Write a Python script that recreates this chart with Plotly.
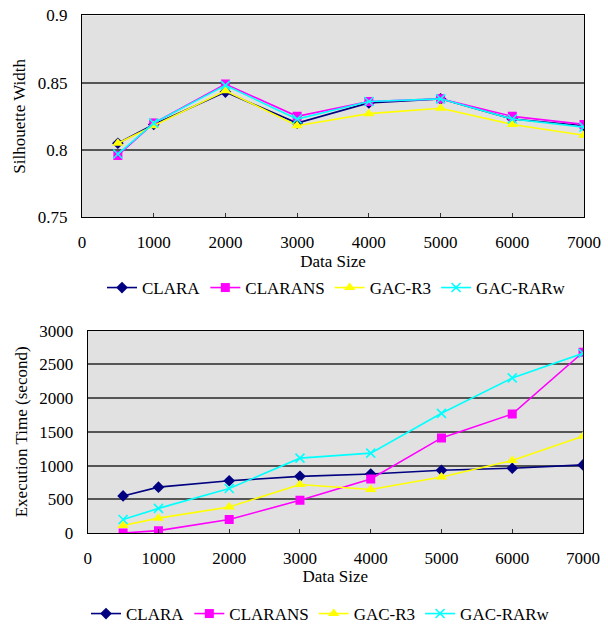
import plotly.graph_objects as go

# Data sizes shared by both panels
data_sizes = [500, 1000, 2000, 3000, 4000, 5000, 6000, 7000]

# Silhouette width per algorithm
sil_clara = [0.805, 0.819, 0.843, 0.820, 0.835, 0.838, 0.823, 0.818]
sil_clarans = [0.796, 0.820, 0.849, 0.825, 0.836, 0.838, 0.825, 0.819]
sil_gac_r3 = [0.805, 0.818, 0.844, 0.818, 0.827, 0.831, 0.819, 0.811]
sil_gac_rarw = [0.797, 0.820, 0.848, 0.823, 0.836, 0.838, 0.823, 0.817]

# Execution time (seconds) per algorithm
time_clara = [550, 680, 775, 840, 875, 930, 960, 1010]
time_clarans = [0, 35, 200, 485, 800, 1410, 1765, 2680]
time_gac_r3 = [110, 220, 385, 720, 645, 830, 1075, 1435]
time_gac_rarw = [200, 365, 660, 1110, 1185, 1775, 2300, 2665]

series_names = ["CLARA", "CLARANS", "GAC-R3", "GAC-RARw"]

W, H = 608, 624
FONT = "Liberation Serif"
FS = 17

styles = [
    dict(color="#000080", symbol="diamond", size=9, mline=0),
    dict(color="#FF00FF", symbol="square", size=9, mline=0),
    dict(color="#FFFF00", symbol="triangle-up", size=10, mline=0),
    dict(color="#00FFFF", symbol="x-thin-open", size=9, mline=1.6),
]

fig = go.Figure()

sil_series = [sil_clara, sil_clarans, sil_gac_r3, sil_gac_rarw]
time_series = [time_clara, time_clarans, time_gac_r3, time_gac_rarw]

for name, vals, st in zip(series_names, sil_series, styles):
    fig.add_trace(go.Scatter(
        x=data_sizes, y=vals, name=name, mode="lines+markers",
        xaxis="x", yaxis="y", legend="legend",
        line=dict(color=st["color"], width=1.6),
        marker=dict(symbol=st["symbol"], size=st["size"], color=st["color"],
                    line=dict(color=st["color"], width=st["mline"])),
    ))

for name, vals, st in zip(series_names, time_series, styles):
    fig.add_trace(go.Scatter(
        x=data_sizes, y=vals, name=name, mode="lines+markers",
        xaxis="x2", yaxis="y2", legend="legend2",
        line=dict(color=st["color"], width=1.6),
        marker=dict(symbol=st["symbol"], size=st["size"], color=st["color"],
                    line=dict(color=st["color"], width=st["mline"])),
    ))


def px_x(a, b):
    return [a / W, b / W]


def px_y(top, bottom):
    return [1 - bottom / H, 1 - top / H]


xaxis_common = dict(
    range=[0, 7000], dtick=1000, tick0=0,
    showgrid=False, zeroline=False,
    showline=True, linecolor="black", linewidth=1.2, mirror=True,
    ticks="inside", ticklen=4, tickcolor="#333", tickwidth=1,
    ticklabelstandoff=9,
    tickfont=dict(family=FONT, size=FS, color="black"),
    title=dict(text="Data Size", font=dict(family=FONT, size=FS, color="black"),
               standoff=0),
)
yaxis_common = dict(
    showgrid=True, gridcolor="#555555", gridwidth=1.6,
    zeroline=False,
    showline=True, linecolor="black", linewidth=1.2, mirror=True,
    ticks="", ticklabelstandoff=10,
    tickfont=dict(family=FONT, size=FS, color="black"),
)

fig.update_layout(
    width=W, height=H,
    margin=dict(l=0, r=0, t=0, b=0, autoexpand=False),
    paper_bgcolor="white",
    plot_bgcolor="#e1e1e1",
    font=dict(family=FONT, size=FS, color="black"),
    xaxis=dict(domain=px_x(82, 584), anchor="y", **xaxis_common),
    yaxis=dict(domain=px_y(15.4, 217.3), anchor="x", range=[0.75, 0.9],
               dtick=0.05, tick0=0.75,
               title=dict(text="Silhouette Width", standoff=7,
                          font=dict(family=FONT, size=FS, color="black")),
               **yaxis_common),
    xaxis2=dict(domain=px_x(87.7, 583), anchor="y2", **xaxis_common),
    yaxis2=dict(domain=px_y(330.7, 533), anchor="x2", range=[0, 3000],
                dtick=500, tick0=0,
                title=dict(text="Execution Time (second)", standoff=7,
                           font=dict(family=FONT, size=FS, color="black")),
                **yaxis_common),
    legend=dict(orientation="h", x=102 / W, xanchor="left",
                y=1 - 288 / H, yanchor="middle",
                bgcolor="rgba(0,0,0,0)", borderwidth=0,
                font=dict(family=FONT, size=FS, color="black"),
                itemclick=False),
    legend2=dict(orientation="h", x=86 / W, xanchor="left",
                 y=1 - 614 / H, yanchor="middle",
                 bgcolor="rgba(0,0,0,0)", borderwidth=0,
                 font=dict(family=FONT, size=FS, color="black"),
                 itemclick=False),
    showlegend=True,
)

fig.write_html("out.html")
